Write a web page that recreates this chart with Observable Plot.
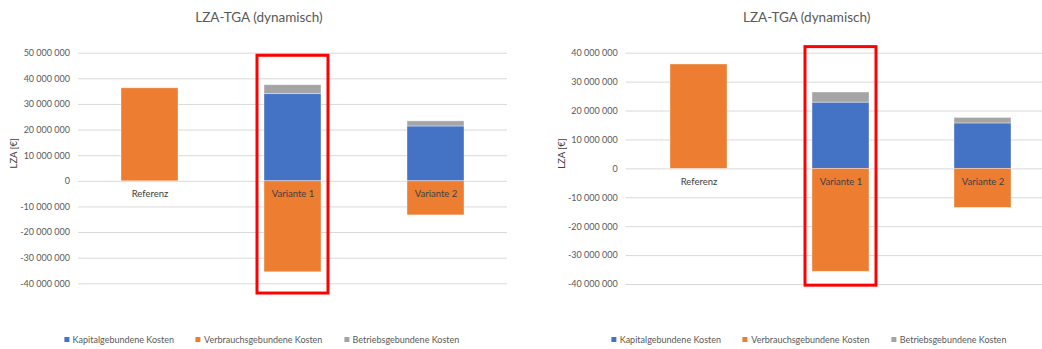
<!DOCTYPE html>
<html><head><meta charset="utf-8">
<script src="https://cdn.jsdelivr.net/npm/d3@7"></script>
<script src="https://cdn.jsdelivr.net/npm/@observablehq/plot@0.6"></script>
<style>
html,body{margin:0;padding:0;background:#fff;overflow:hidden;}
#root{position:relative;width:1042px;height:349px;overflow:hidden;font-family:Lato,"Open Sans",sans-serif;}
.panel{position:absolute;top:0;height:300px;}
.title{position:absolute;top:9px;line-height:16px;transform:translateX(-50%);white-space:nowrap;font-size:13.5px;color:#595959;}
.legend{position:absolute;top:334px;line-height:12px;display:flex;gap:21.7px;transform:translateX(-50%);font-size:9px;color:#595959;white-space:nowrap;}
.sw{display:inline-block;width:5px;height:5px;margin-right:3.5px;vertical-align:middle;position:relative;top:-1px;}
</style>
</head><body><div id="root"></div>
<script>
const chartTitle = "LZA-TGA (dynamisch)";
const yLabel = "LZA [€]";
const categories = ["Referenz", "Variante 1", "Variante 2"];
const series = ["Kapitalgebundene Kosten", "Verbrauchsgebundene Kosten", "Betriebsgebundene Kosten"];
const colors = ["#4472C4", "#ED7D31", "#A5A5A5"];

// left panel values (€)
const kapitalLeft   = [0, 34.0e6, 21.4e6];
const verbrauchLeft = [36.3e6, -35.5e6, -13.3e6];
const betriebLeft   = [0, 3.5e6, 2.0e6];
const yTicksLeft = [-40e6, -30e6, -20e6, -10e6, 0, 10e6, 20e6, 30e6, 40e6, 50e6];

// right panel values (€)
const kapitalRight   = [0, 22.9e6, 15.7e6];
const verbrauchRight = [36.1e6, -35.6e6, -13.5e6];
const betriebRight   = [0, 3.5e6, 1.9e6];
const yTicksRight = [-40e6, -30e6, -20e6, -10e6, 0, 10e6, 20e6, 30e6, 40e6];

// highlight box around Variante 1 (value extent)
const highlightCategory = "Variante 1";
const highlightLeft  = [-43.8e6, 49.0e6];
const highlightRight = [-40.4e6, 42.1e6];

const locale = d3.formatLocale({decimal: ",", thousands: " ", grouping: [3], currency: ["", "€"], minus: "-"});
const fmt = locale.format(",.0f");

function makePanel(opts) {
  const {kap, ver, bet, ticks, hl, left, width, mL, mR, mT, mB, titleX, legendX} = opts;
  const data = [];
  categories.forEach((c, i) => {
    data.push({cat: c, series: series[0], value: kap[i]});
    data.push({cat: c, series: series[1], value: ver[i]});
    data.push({cat: c, series: series[2], value: bet[i]});
  });
  const height = 300;
  const plot = Plot.plot({
    width, height,
    marginLeft: mL, marginRight: mR, marginTop: mT, marginBottom: mB,
    style: {fontFamily: 'Lato,"Open Sans",sans-serif', fontSize: "9px", color: "#595959", background: "transparent"},
    x: {domain: categories, paddingInner: 0.6, paddingOuter: 0.3, axis: null},
    y: {domain: [ticks[0], ticks[ticks.length - 1]], axis: null},
    color: {domain: series, range: colors},
    marks: [
      Plot.ruleY(ticks, {stroke: "#d9d9d9", strokeWidth: 1}),
      Plot.barY(data, {x: "cat", y: "value", fill: "series", stroke: "#ffffff", strokeOpacity: 0.5, strokeWidth: 0.75}),
      Plot.axisY({ticks, tickFormat: fmt, tickSize: 0, tickPadding: 8.5, label: null, fill: "#595959", fontSize: 9}),
      Plot.text(categories, {x: d => d, y: () => 0, dy: 13, fill: "#404040", fontSize: 9.5}),
      Plot.text([yLabel], {frameAnchor: "left", rotate: -90, dx: opts.labelDx, fill: "#404040", fontSize: 9.5}),
      Plot.barY([{cat: highlightCategory, y1: hl[0], y2: hl[1]}], {x: "cat", y1: "y1", y2: "y2", fill: "none", stroke: "#ff0000", strokeWidth: 3, insetLeft: -7, insetRight: -7})
    ]
  });
  const panel = document.createElement("div");
  panel.className = "panel";
  panel.style.left = left + "px";
  panel.style.width = width + "px";
  panel.appendChild(plot);
  const root = document.getElementById("root");
  root.appendChild(panel);

  const t = document.createElement("div");
  t.className = "title";
  t.style.left = titleX + "px";
  t.textContent = chartTitle;
  root.appendChild(t);

  const lg = document.createElement("div");
  lg.className = "legend";
  lg.style.left = legendX + "px";
  series.forEach((s, i) => {
    const item = document.createElement("span");
    const sw = document.createElement("span");
    sw.className = "sw";
    sw.style.background = colors[i];
    item.appendChild(sw);
    item.appendChild(document.createTextNode(s));
    lg.appendChild(item);
  });
  root.appendChild(lg);
}

makePanel({kap: kapitalLeft, ver: verbrauchLeft, bet: betriebLeft, ticks: yTicksLeft, hl: highlightLeft,
  left: 0, width: 520, mL: 78, mR: 13, mT: 52.7, mB: 16.7, titleX: 259, legendX: 261.7, labelDx: -64.5});
makePanel({kap: kapitalRight, ver: verbrauchRight, bet: betriebRight, ticks: yTicksRight, hl: highlightRight,
  left: 520, width: 540, mL: 105.7, mR: 5.7, mT: 52.7, mB: 16, titleX: 286.7 + 520, legendX: 808.8, labelDx: -64.2});
</script>
</body></html>
